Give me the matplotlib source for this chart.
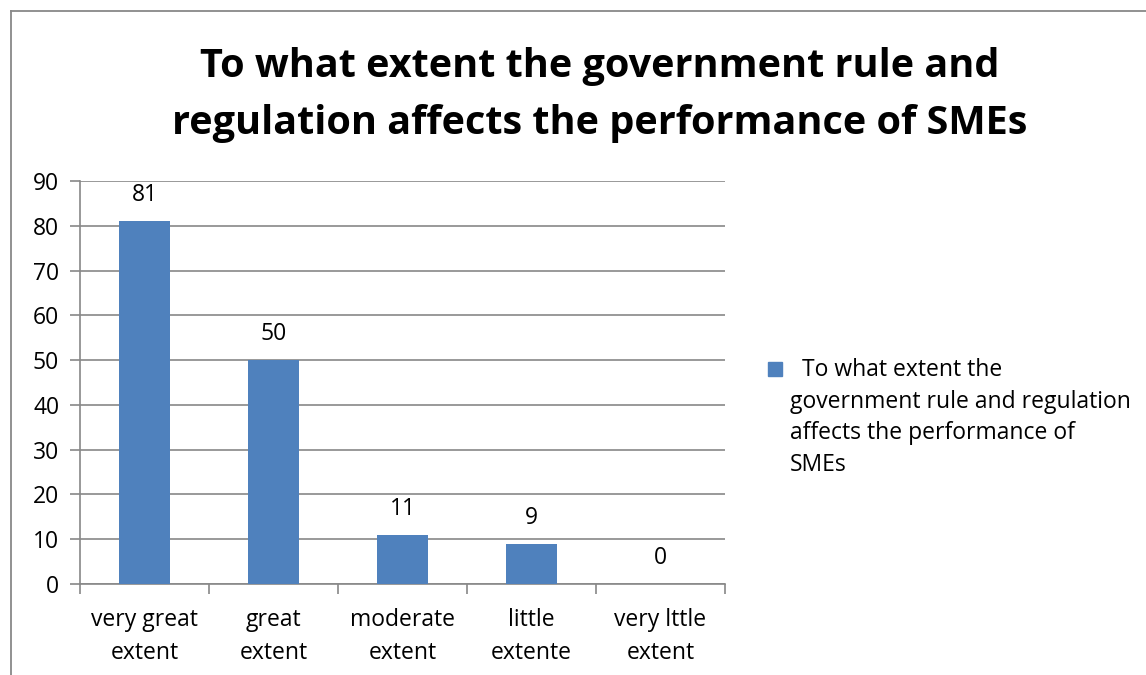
import matplotlib
matplotlib.use("Agg")
import matplotlib.pyplot as plt
from matplotlib.lines import Line2D

categories = ["very great\nextent", "great\nextent", "moderate\nextent", "little\nextente", "very lttle\nextent"]
values = [81, 50, 11, 9, 0]
yticks = [0, 10, 20, 30, 40, 50, 60, 70, 80, 90]
series_name = "  To what extent the\ngovernment rule and regulation\naffects the performance of\nSMEs"
title = "To what extent the government rule and\nregulation affects the performance of SMEs"

plt.rcParams['font.family'] = ['Open Sans', 'DejaVu Sans']
W, H = 1146, 675
fig = plt.figure(figsize=(W / 100, H / 100), dpi=100)

# outer frame
fig.add_artist(Line2D([11 / W, 11 / W], [0, 1 - 11 / H], color="#888888", lw=1.3))
fig.add_artist(Line2D([11 / W, 1], [1 - 11 / H, 1 - 11 / H], color="#888888", lw=1.3))

FS = 16.5
ax = fig.add_axes([80 / W, 91 / H, 645 / W, 403 / H])
x = list(range(len(categories)))
ax.bar(x, values, width=0.4, color="#4F81BD", zorder=3)
ax.set_xlim(-0.5, len(categories) - 0.5)
ax.set_ylim(0, 90)
ax.set_yticks(yticks)
ax.set_yticklabels([str(v) for v in yticks], fontsize=FS)
ax.yaxis.grid(True, color="#888888", lw=1.2, zorder=0)
ax.set_xticks(x)
ax.set_xticklabels(categories, fontsize=FS, linespacing=1.5)
ax.tick_params(axis='x', length=0, pad=17)
ax.tick_params(axis='y', length=7, color="#888888", width=1.2, pad=8)
ax.set_xticks([i - 0.5 for i in range(len(categories) + 1)], minor=True)
ax.tick_params(axis='x', which='minor', length=7, color="#888888", width=1.2, direction='out')
for s in ["top", "right"]:
    ax.spines[s].set_visible(False)
for s in ["left", "bottom"]:
    ax.spines[s].set_color("#888888")
    ax.spines[s].set_linewidth(1.2)

for xi, v in zip(x, values):
    ax.annotate(str(v), (xi, v), xytext=(0, 10), textcoords="offset points",
                ha="center", va="bottom", fontsize=FS)

fig.text(600 / W, 1 - 95 / H, title, ha="center", va="center", fontsize=28.5,
         fontweight="bold", linespacing=1.6)

# legend
fig.add_artist(plt.Rectangle((768 / W, 1 - 376 / H), 14 / W, 14 / H, color="#4F81BD"))
fig.text(790 / W, 1 - 358 / H, series_name, ha="left", va="top", fontsize=FS,
         linespacing=1.43)

fig.savefig("out.png", dpi=100)
